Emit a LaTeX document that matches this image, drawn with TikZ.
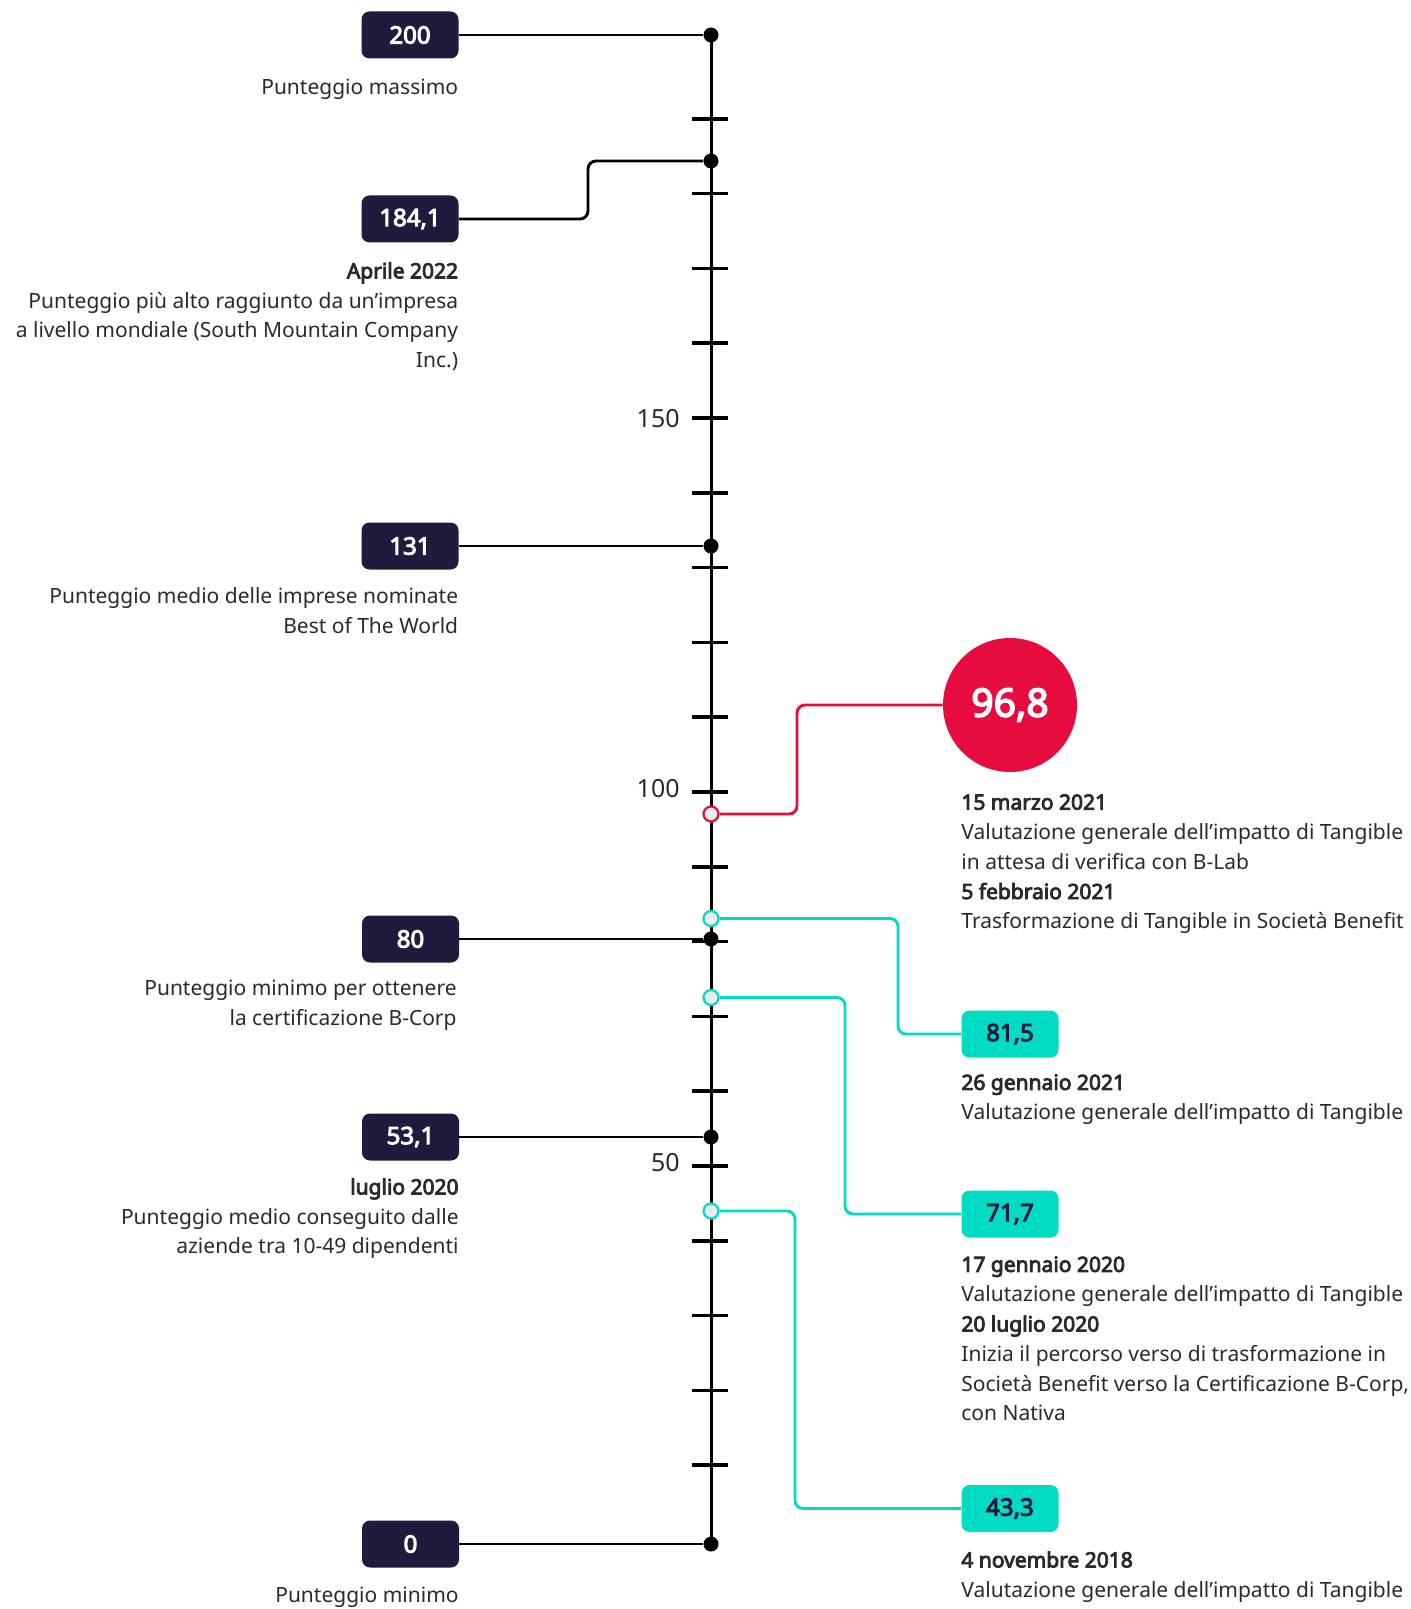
\documentclass[tikz,border=0pt]{standalone}
\usepackage{fontspec}
\setmainfont{Noto Sans}[AutoFakeBold=4]
\usetikzlibrary{positioning}
\definecolor{bcnavy}{HTML}{1E1B3D}
\definecolor{bcteal}{HTML}{00DCC4}
\definecolor{bcred}{HTML}{E60D3E}
\definecolor{bctext}{HTML}{2A2A2A}

\tikzset{
  score/.style={rounded corners=4pt, fill=bcnavy, text=white, inner sep=0pt,
    minimum width=48.5pt, minimum height=23.5pt, font=\fontsize{12}{14}\selectfont\bfseries},
  ours/.style={score, fill=bcteal, text=bcnavy},
  desc/.style={inner sep=0pt, text=bctext, align=right, anchor=north east,
    font=\fontsize{10.5}{14.9}\selectfont},
  descr/.style={desc, align=left, anchor=north west},
  axtick/.style={line width=1.75pt},
  axlabel/.style={inner sep=0pt, anchor=east, text=bctext, font=\fontsize{12.5}{14}\selectfont},
  dot/.style={circle, fill=black, inner sep=0pt, minimum size=7.5pt},
  hollow/.style={circle, draw=#1, fill=black!8, line width=1.1pt, inner sep=0pt, minimum size=7.5pt},
  link/.style={line width=1.45pt, rounded corners=4pt}
}

\begin{document}
\begin{tikzpicture}[x=0.5pt, y=-0.5pt]
        \useasboundingbox (0,0) rectangle (1410,1609);

        % scale
        \coordinate (top) at (711,35);
        \coordinate (bot) at (711,1546);
        \draw[line width=1.5pt] (top) -- (bot);
        \foreach \v in {10,20,...,190}
            \draw[axtick] (692,{1540-7.48*\v}) -- (728,{1540-7.48*\v});
        \node[axlabel] (l150) at (680,419) {150};
        \node[axlabel] (l100) at (680,789) {100};
        \node[axlabel] (l50) at (680,1163) {50};

        % reference scores
        \node[score] (b200) at (410,35) {200};
        \node[score] (b184) at (410,219) {184,1};
        \node[score] (b131) at (410,546) {131};
        \node[score] (b80) at (410.5,939) {80};
        \node[score] (b531) at (410.5,1137) {53,1};
        \node[score] (b0) at (410.5,1544) {0};

        \node[dot] (d200) at (711,35) {};
        \node[dot] (d184) at (711,161) {};
        \node[dot] (d131) at (711,546) {};
        \node[dot] (d80) at (711,939) {};
        \node[dot] (d531) at (711,1137) {};
        \node[dot] (d0) at (711,1544) {};

        \draw[link] (b200) -- (d200);
        \draw[link] (b184) -- ++(178,0) |- (d184);
        \draw[link] (b131) -- (d131);
        \draw[link] (b80) -- (d80);
        \draw[link] (b531) -- (d531);
        \draw[link] (b0) -- (d0);

        \node[desc] (t200) at (458.5,79) {Punteggio massimo};
        \node[desc] (t184) at (458.5,262) {\textbf{Aprile 2022}\\Punteggio più alto raggiunto da un’impresa\\a livello mondiale (South Mountain Company\\Inc.)};
        \node[desc] (t131) at (458.5,587) {Punteggio medio delle imprese nominate\\Best of The World};
        \node[desc] (t80) at (457,980) {Punteggio minimo per ottenere\\la certificazione B-Corp};
        \node[desc] (t531) at (459,1178) {\textbf{luglio 2020}\\Punteggio medio conseguito dalle\\aziende tra 10-49 dipendenti};
        \node[desc] (t0) at (459,1587) {Punteggio minimo};

        % Tangible
        \node[circle, fill=bcred, text=white, inner sep=0pt, minimum size=67pt,
              font=\fontsize{19.5}{22}\selectfont\bfseries] (c968) at (1010,705) {96,8};
        \node[ours] (b815) at (1010,1034) {81,5};
        \node[ours] (b717) at (1010,1214) {71,7};
        \node[ours] (b433) at (1010,1508.5) {43,3};

        \node[hollow=bcred] (o968) at (711,814) {};
        \node[hollow=bcteal] (o815) at (711,918.5) {};
        \node[hollow=bcteal] (o717) at (711,997.5) {};
        \node[hollow=bcteal] (o433) at (711,1211) {};

        \draw[link, bcred] (o968) -- ++(86,0) |- (c968);
        \draw[link, bcteal] (o815) -- ++(187,0) |- (b815);
        \draw[link, bcteal] (o717) -- ++(134,0) |- (b717);
        \draw[link, bcteal] (o433) -- ++(84,0) |- (b433);

        \node[descr] (t968) at (961,794) {\textbf{15 marzo 2021}\\Valutazione generale dell’impatto di Tangible\\in attesa di verifica con B-Lab\\\textbf{5 febbraio 2021}\\Trasformazione di Tangible in Società Benefit};
        \node[descr] (t815) at (961,1074) {\textbf{26 gennaio 2021}\\Valutazione generale dell’impatto di Tangible};
        \node[descr] (t717) at (961,1256) {\textbf{17 gennaio 2020}\\Valutazione generale dell’impatto di Tangible\\\textbf{20 luglio 2020}\\Inizia il percorso verso di trasformazione in\\Società Benefit verso la Certificazione B-Corp,\\con Nativa};
        \node[descr] (t433) at (961,1551) {\textbf{4 novembre 2018}\\Valutazione generale dell’impatto di Tangible};

    \end{tikzpicture}
\end{document}
